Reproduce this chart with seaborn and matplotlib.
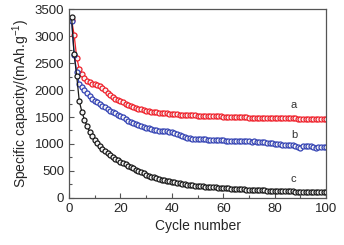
import numpy as np
import pandas as pd
import matplotlib
matplotlib.use("Agg")
import matplotlib.pyplot as plt
from matplotlib.ticker import MultipleLocator
import seaborn as sns

# cycle numbers 1..100
cycles = list(range(1, 101))

# sample a (red)
cap_a = [3300, 3020, 2600, 2390, 2290, 2220, 2170, 2140, 2120, 2105,
         2090, 2075, 2040, 2000, 1950, 1910, 1870, 1840, 1810, 1790,
         1770, 1750, 1730, 1710, 1690, 1670, 1650, 1640, 1630, 1620,
         1610, 1600, 1590, 1585, 1580, 1575, 1570, 1565, 1560, 1555,
         1550, 1548, 1545, 1542, 1540, 1535, 1530, 1528, 1530, 1525,
         1522, 1520, 1518, 1515, 1515, 1512, 1510, 1512, 1510, 1508,
         1505, 1503, 1500, 1498, 1500, 1497, 1495, 1495, 1492, 1490,
         1490, 1488, 1488, 1486, 1485, 1484, 1484, 1482, 1481, 1480,
         1480, 1478, 1478, 1476, 1475, 1475, 1474, 1473, 1472, 1472,
         1471, 1470, 1470, 1469, 1468, 1468, 1467, 1466, 1466, 1465]

# sample b (blue)
cap_b = [3270, 2650, 2330, 2110, 2060, 2000, 1950, 1880, 1840, 1800,
         1770, 1740, 1710, 1680, 1650, 1620, 1590, 1570, 1545, 1520,
         1495, 1465, 1430, 1405, 1385, 1365, 1345, 1330, 1315, 1300,
         1290, 1275, 1265, 1255, 1248, 1245, 1240, 1235, 1228, 1220,
         1205, 1190, 1172, 1155, 1138, 1120, 1105, 1098, 1092, 1085,
         1088, 1092, 1085, 1080, 1078, 1075, 1072, 1070, 1068, 1065,
         1062, 1060, 1062, 1058, 1055, 1058, 1055, 1050, 1052, 1050,
         1045, 1048, 1040, 1035, 1030, 1028, 1022, 1018, 1012, 1008,
         1000, 995, 990, 985, 982, 978, 975, 965, 945, 920,
         955, 965, 968, 960, 950, 925, 945, 950, 948, 945]

# sample c (black)
cap_c = [3350, 2660, 2260, 1790, 1600, 1450, 1330, 1230, 1150, 1080,
         1010, 960, 910, 870, 830, 795, 760, 730, 700, 675,
         650, 625, 600, 575, 550, 525, 500, 475, 455, 430,
         412, 395, 380, 365, 350, 338, 326, 315, 305, 296,
         287, 278, 270, 262, 255, 248, 241, 235, 229, 223,
         218, 213, 209, 205, 201, 197, 194, 191, 188, 185,
         182, 178, 175, 172, 168, 165, 162, 159, 156, 154,
         151, 149, 146, 144, 142, 140, 138, 136, 134, 132,
         130, 128, 126, 125, 123, 122, 120, 119, 117, 116,
         115, 113, 112, 111, 110, 109, 108, 107, 106, 105]

series_labels = ["a", "b", "c"]
series_colors = ["#f0202a", "#3443b4", "#1a1a1a"]

sns.set_style("ticks")
plt.rcParams["font.family"] = ["Liberation Sans", "DejaVu Sans"]
plt.rcParams["mathtext.fontset"] = "custom"
plt.rcParams["mathtext.rm"] = "Liberation Sans"
plt.rcParams["mathtext.it"] = "Liberation Sans"

fig = plt.figure(figsize=(3.44, 2.45), dpi=100)
ax = fig.add_axes([0.2006, 0.192, 0.7474, 0.771])

for caps, col in zip([cap_a, cap_b, cap_c], series_colors):
    sns.lineplot(x=cycles, y=caps, ax=ax, color=col, lw=0.9,
                 marker="o", markersize=3.6, mfc="#f4f4f4", mec=col,
                 mew=0.9)

ax.text(87.4, 1722, "a", fontsize=8, ha="center", va="center", color="#333333")
ax.text(87.8, 1160, "b", fontsize=8, ha="center", va="center", color="#333333")
ax.text(87.4, 350, "c", fontsize=8, ha="center", va="center", color="#333333")

ax.set_xlim(0, 100)
ax.set_ylim(0, 3500)
ax.xaxis.set_major_locator(MultipleLocator(20))
ax.xaxis.set_minor_locator(MultipleLocator(10))
ax.yaxis.set_major_locator(MultipleLocator(500))
ax.yaxis.set_minor_locator(MultipleLocator(250))
ax.tick_params(which="both", direction="in", labelsize=9.5, color="#555555")
ax.tick_params(which="major", length=3.5, width=0.8)
ax.tick_params(which="minor", length=2, width=0.8)
for s in ax.spines.values():
    s.set_visible(True)
    s.set_color("#555555")
    s.set_linewidth(0.9)

ax.set_xlabel("Cycle number", fontsize=10, labelpad=3)
ax.set_ylabel(r"Specific capacity/(mAh.g$^{-1}$)", fontsize=10, labelpad=2)

fig.savefig("out.png", dpi=100)
